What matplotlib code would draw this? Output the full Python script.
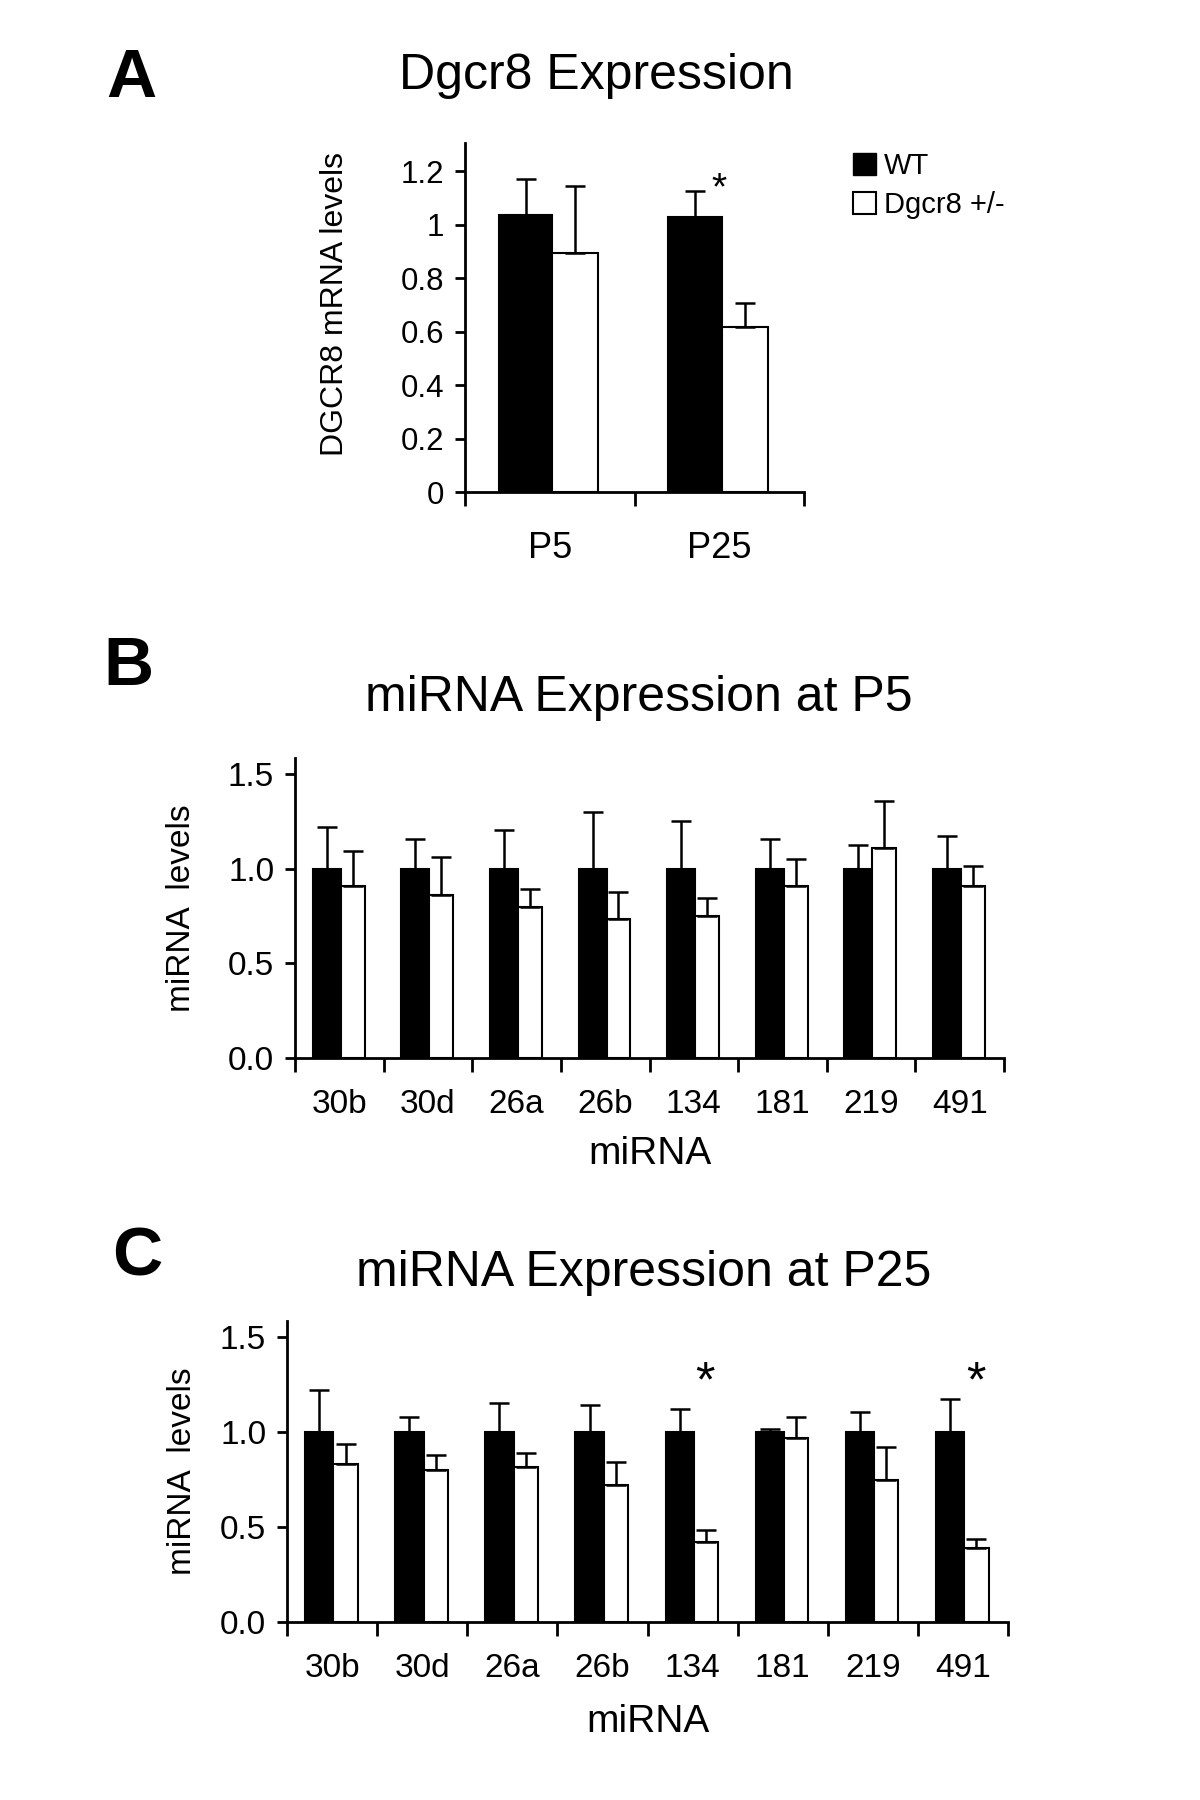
import numpy as np
import matplotlib
matplotlib.use("Agg")
import matplotlib.pyplot as plt
from matplotlib.patches import Patch

plt.rcParams['font.family'] = ['Liberation Sans', 'DejaVu Sans']

# ── Data ─────────────────────────────────────────────────────────────────────
A_GROUPS   = ["P5", "P25"]
A_WT       = [1.035, 1.027]
A_WT_ERR   = [0.135, 0.098]
A_KO       = [0.893, 0.617]
A_KO_ERR   = [0.253, 0.089]
A_STARS    = [(1, 1.13)]

MIRNAS     = ["30b", "30d", "26a", "26b", "134", "181", "219", "491"]

P5_WT      = [1.0, 1.0, 1.0, 1.0, 1.0, 1.0, 1.0, 1.0]
P5_WT_ERR  = [0.219, 0.157, 0.205, 0.298, 0.252, 0.157, 0.125, 0.173]
P5_KO      = [0.910, 0.862, 0.799, 0.737, 0.751, 0.910, 1.111, 0.910]
P5_KO_ERR  = [0.183, 0.201, 0.093, 0.140, 0.094, 0.141, 0.249, 0.104]

P25_WT     = [1.0, 1.0, 1.0, 1.0, 1.0, 1.0, 1.0, 1.0]
P25_WT_ERR = [0.222, 0.079, 0.152, 0.141, 0.123, 0.015, 0.106, 0.173]
P25_KO     = [0.831, 0.799, 0.815, 0.721, 0.420, 0.970, 0.750, 0.392]
P25_KO_ERR = [0.104, 0.078, 0.076, 0.124, 0.063, 0.109, 0.174, 0.044]
P25_STARS  = [(4, 1.255), (7, 1.255)]

W, H = 1200, 1800


def px(x, y):
    # pixel position (from top-left) -> figure fraction
    return x / W, 1 - y / H


def ax_rect(left, top, right, bottom):
    return [left / W, 1 - bottom / H, (right - left) / W, (bottom - top) / H]


# ── Bars ─────────────────────────────────────────────────────────────────────
def draw_bars(ax, wt, wt_err, ko, ko_err):
    x = np.arange(len(wt))
    wt_w, ko_w = 0.315, 0.27
    wt_l, ko_l = x - 0.30, x + 0.015
    ax.bar(wt_l, wt, width=wt_w, align="edge", color="black",
           edgecolor="black", linewidth=1.5, zorder=2)
    ax.bar(ko_l, ko, width=ko_w, align="edge", color="white",
           edgecolor="black", linewidth=1.5, zorder=2)
    zeros = np.zeros(len(wt))
    ax.errorbar(wt_l + wt_w / 2, wt, yerr=[zeros, wt_err], fmt="none",
                ecolor="black", elinewidth=1.8, capsize=7, capthick=1.8,
                zorder=3)
    ax.errorbar(ko_l + ko_w / 2, ko, yerr=[zeros, ko_err], fmt="none",
                ecolor="black", elinewidth=1.8, capsize=7, capthick=1.8,
                zorder=3)


def style_axes(ax, labels, ymax, xsize, xpad, ysize, ypad):
    n = len(labels)
    for s in ["top", "right"]:
        ax.spines[s].set_visible(False)
    for s in ["left", "bottom"]:
        ax.spines[s].set_linewidth(2)
    ax.set_xlim(-0.5, n - 0.5)
    ax.set_ylim(0, ymax)
    ax.set_xticks(np.arange(n + 1) - 0.5)
    ax.set_xticklabels([])
    ax.set_xticks(np.arange(n), minor=True)
    ax.set_xticklabels(labels, minor=True, fontsize=xsize)
    ax.tick_params(axis="x", which="major", length=10, width=2,
                   direction="out")
    ax.tick_params(axis="x", which="minor", length=0, pad=xpad)
    ax.tick_params(axis="y", length=7, width=2, direction="out", pad=ypad,
                   labelsize=ysize)


fig = plt.figure(figsize=(12, 18), dpi=100, facecolor="white")

# ── Panel A ──────────────────────────────────────────────────────────────────
axA = fig.add_axes(ax_rect(465, 143, 804, 492))
draw_bars(axA, A_WT, A_WT_ERR, A_KO, A_KO_ERR)
axA.set_yticks([0, 0.2, 0.4, 0.6, 0.8, 1.0, 1.2])
axA.set_yticklabels(["0", "0.2", "0.4", "0.6", "0.8", "1", "1.2"])
style_axes(axA, A_GROUPS, 1.305, 26, 28, 22.5, 8)
axA.set_ylabel("DGCR8 mRNA levels", fontsize=23)
axA.yaxis.set_label_coords(-0.34, 0.54)
for xi, yi in A_STARS:
    axA.text(xi, yi, "*", ha="center", va="center", fontsize=28)

fig.legend(handles=[Patch(facecolor="black", edgecolor="black", label="WT"),
                    Patch(facecolor="white", edgecolor="black", linewidth=1.5,
                          label="Dgcr8 +/-")],
           loc="upper left", bbox_to_anchor=px(853, 152), frameon=False,
           fontsize=21, handlelength=0.8, handleheight=0.8,
           handletextpad=0.25, labelspacing=0.38, borderpad=0,
           borderaxespad=0)

fig.text(*px(596, 76), "Dgcr8 Expression", ha="center", va="center",
         fontsize=36)
fig.text(*px(131, 79), "A", ha="center", va="center", fontsize=50,
         fontweight="bold")

# ── Panel B ──────────────────────────────────────────────────────────────────
axB = fig.add_axes(ax_rect(295, 758, 1004, 1058))
draw_bars(axB, P5_WT, P5_WT_ERR, P5_KO, P5_KO_ERR)
axB.set_yticks([0, 0.5, 1.0, 1.5])
axB.set_yticklabels(["0.0", "0.5", "1.0", "1.5"])
style_axes(axB, MIRNAS, 1.585, 24, 22, 24, 8)
axB.set_xlabel("miRNA", fontsize=28, labelpad=12)
axB.set_ylabel("miRNA  levels", fontsize=24)
axB.yaxis.set_label_coords(-0.138, 0.5)

fig.text(*px(639, 698), "miRNA Expression at P5", ha="center", va="center",
         fontsize=36)
fig.text(*px(128, 667), "B", ha="center", va="center", fontsize=50,
         fontweight="bold")

# ── Panel C ──────────────────────────────────────────────────────────────────
axC = fig.add_axes(ax_rect(287, 1321, 1008, 1622))
draw_bars(axC, P25_WT, P25_WT_ERR, P25_KO, P25_KO_ERR)
axC.set_yticks([0, 0.5, 1.0, 1.5])
axC.set_yticklabels(["0.0", "0.5", "1.0", "1.5"])
style_axes(axC, MIRNAS, 1.585, 24, 22, 24, 8)
axC.set_xlabel("miRNA", fontsize=28, labelpad=15)
axC.set_ylabel("miRNA  levels", fontsize=24)
axC.yaxis.set_label_coords(-0.123, 0.5)
for xi, yi in P25_STARS:
    axC.text(xi + 0.14, yi, "*", ha="center", va="center", fontsize=36)

fig.text(*px(644, 1273), "miRNA Expression at P25", ha="center",
         va="center", fontsize=36)
fig.text(*px(137, 1257), "C", ha="center", va="center", fontsize=50,
         fontweight="bold")

fig.savefig("out.png", dpi=100, facecolor="white")
